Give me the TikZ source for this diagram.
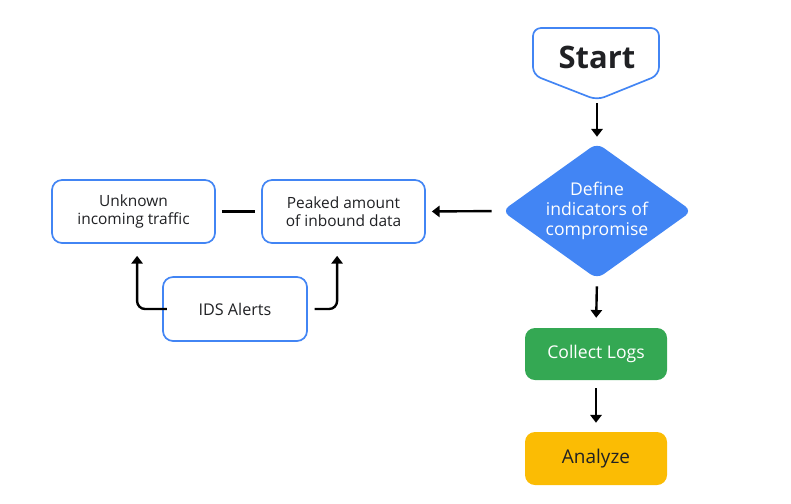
\documentclass[tikz,border=0pt]{standalone}
\usepackage{fontspec}
\setmainfont{Open Sans}
\usepackage{xcolor}
\definecolor{gblue}{RGB}{66, 133, 244}
\definecolor{ggreen}{RGB}{52, 168, 83}
\definecolor{gyellow}{RGB}{251, 188, 4}
\definecolor{gtext}{RGB}{32, 33, 36}
\usetikzlibrary{shapes.geometric,calc,positioning,arrows.meta}

\tikzset{
    boxtext/.style={font=\fontsize{11}{12.8}\selectfont, align=center, text=gtext},
    outlinebox/.style={draw=gblue, line width=1.2pt, rounded corners=0.25cm, fill=white, boxtext, inner sep=0pt},
    filledbox/.style={draw=none, rounded corners=0.25cm, boxtext, inner sep=0pt},
    flow/.style={-{Triangle[width=8pt,length=5.5pt]}, line width=1.7pt, black},
}

\begin{document}
\begin{tikzpicture}
    \useasboundingbox (0,0) rectangle (19.775,-12.575);

    % Start
    \draw[gblue, line width=1.2pt, rounded corners=0.2cm, fill=white]
        (13.325,-1.875) -- (13.325,-0.7) -- (16.475,-0.7) -- (16.475,-1.875) -- (14.925,-2.5) -- cycle;
    \node[text=gtext] (start) at (14.925,-1.43) {\fontsize{22}{26}\selectfont\bfseries Start};
    \coordinate (starttip) at (14.925,-2.5);

    % Define indicators of compromise
    \node[diamond, aspect=1.4, fill=gblue, rounded corners=0.2cm, minimum width=4.75cm, minimum height=3.4cm, inner sep=-2pt, boxtext, text=white, font=\fontsize{12.5}{14}\selectfont] (ioc) at (14.925,-5.275) {Define\\indicators of\\compromise};

    \node[outlinebox, minimum width=4.075cm, minimum height=1.575cm] (peak) at (8.5875,-5.2875) {Peaked amount\\of inbound data};
    \node[outlinebox, minimum width=4.075cm, minimum height=1.575cm] (unknown) at (3.3375,-5.2875) {Unknown\\incoming traffic};
    \node[outlinebox, minimum width=3.6cm, minimum height=1.6cm, font=\fontsize{11.5}{13}\selectfont] (ids) at (5.875,-7.725) {IDS Alerts};

    \node[filledbox, fill=ggreen, text=white, minimum width=3.55cm, minimum height=1.3cm, font=\fontsize{12.5}{14}\selectfont] (logs) at (14.9,-8.85) {Collect Logs};
    \node[filledbox, fill=gyellow, minimum width=3.55cm, minimum height=1.325cm, font=\fontsize{13.5}{15}\selectfont] (analyze) at (14.9,-11.4625) {Analyze};

    % Connectors
    \draw[flow, shorten <=0.075cm, shorten >=0.15cm] (starttip) -- (ioc.north);
    \draw[flow, shorten <=0.25cm, shorten >=0.15cm] (ioc.west) -- (peak.east);
    \draw[line width=1.7pt, shorten <=0.15cm, shorten >=0.15cm] (unknown.east) -- (peak.west);
    \draw[flow, rounded corners=0.2cm, shorten <=-0.12cm, shorten >=0.3cm] (ids.west) -| ([xshift=0.09cm]unknown.south);
    \draw[flow, rounded corners=0.2cm, shorten <=0.17cm, shorten >=0.3cm] (ids.east) -| ([xshift=-0.16cm]peak.south);
    \draw[flow, shorten <=0.175cm, shorten >=0.25cm] (ioc.south) -- (logs.north);
    \draw[flow, shorten <=0.2cm, shorten >=0.225cm] (logs.south) -- (analyze.north);
\end{tikzpicture}
\end{document}
